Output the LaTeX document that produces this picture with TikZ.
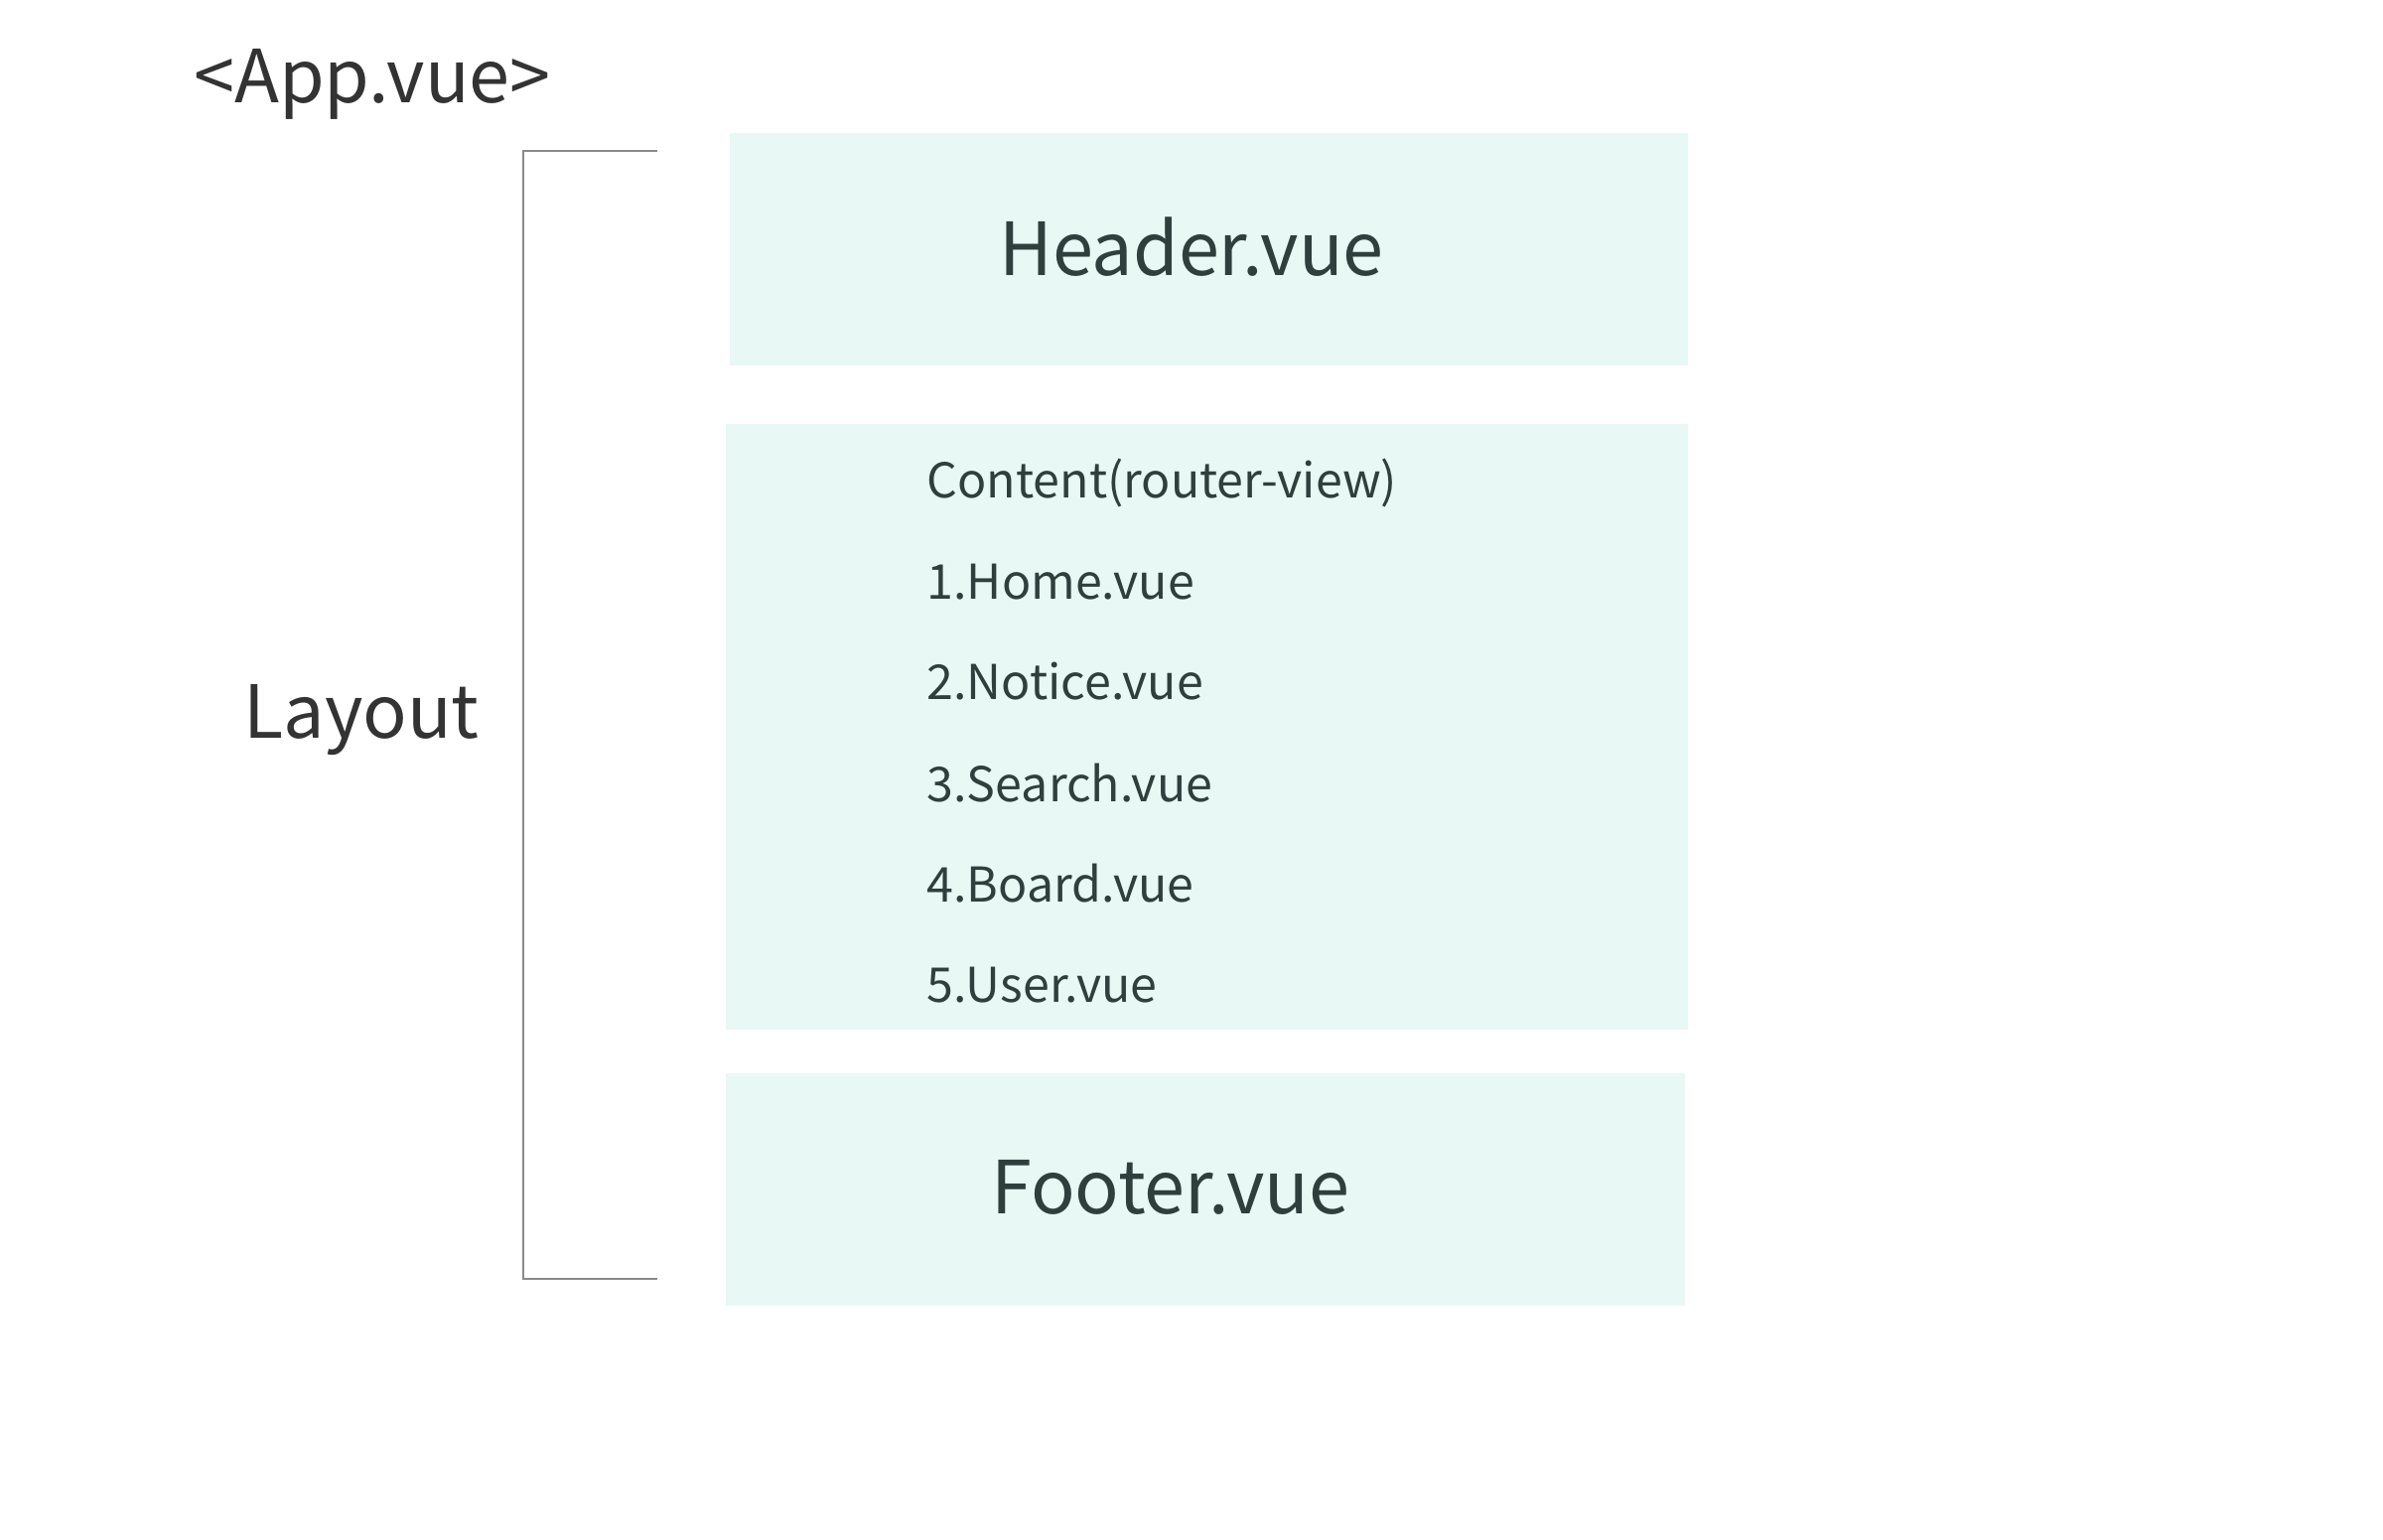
\documentclass[tikz,border=0pt]{standalone}
\usepackage{fontspec}
\setmainfont{Noto Sans CJK KR}
\usetikzlibrary{positioning}
\definecolor{mint}{HTML}{E8F8F5}
\definecolor{boxtext}{HTML}{2E3F3D}
\definecolor{plain}{HTML}{333333}
\definecolor{rule}{HTML}{8A8A8A}

\begin{document}
\begin{tikzpicture}[font=\fontsize{13.75}{16}\selectfont,
        part/.style={fill=mint, inner sep=0pt, anchor=north west},
        big/.style={font=\fontsize{21}{25}\selectfont, inner sep=0pt},
        item/.style={text=boxtext, inner sep=0pt, anchor=base west}]
        \useasboundingbox (0,0) rectangle (24,-15.5);

        \node (App) [big, text=plain, anchor=base] at (3.75,-1.03) {<App.vue>};
        \node (Lay) [big, text=plain, anchor=base] at (3.64,-7.43) {Layout};

        \node (Hd) [part, minimum width=9.65cm, minimum height=2.34cm] at (7.34,-1.33) {};
        \node (Ct) [part, minimum width=9.69cm, minimum height=6.10cm] at (7.30,-4.26) {};
        \node (Ft) [part, minimum width=9.66cm, minimum height=2.34cm] at (7.30,-10.80) {};

        \node (HdT) [big, text=boxtext, anchor=base] at (12.00,-2.77) {Header.vue};
        \node (FtT) [big, text=boxtext, anchor=base] at (11.79,-12.22) {Footer.vue};

        \node (C0) [item] at (9.33,-5.01) {Content(router-view)};
        \node (C1) [item] at (9.33,-6.03) {1.Home.vue};
        \node (C2) [item] at (9.33,-7.04) {2.Notice.vue};
        \node (C3) [item] at (9.33,-8.07) {3.Search.vue};
        \node (C4) [item] at (9.33,-9.08) {4.Board.vue};
        \node (C5) [item] at (9.33,-10.09) {5.User.vue};

        \coordinate (Bt) at (6.62,-1.52);
        \coordinate (Bb) at (6.62,-12.88);
        \draw [rule, line width=0.6pt] (Bt) -- ++(-1.35,0) |- (Bb);

        \end{tikzpicture}
\end{document}
